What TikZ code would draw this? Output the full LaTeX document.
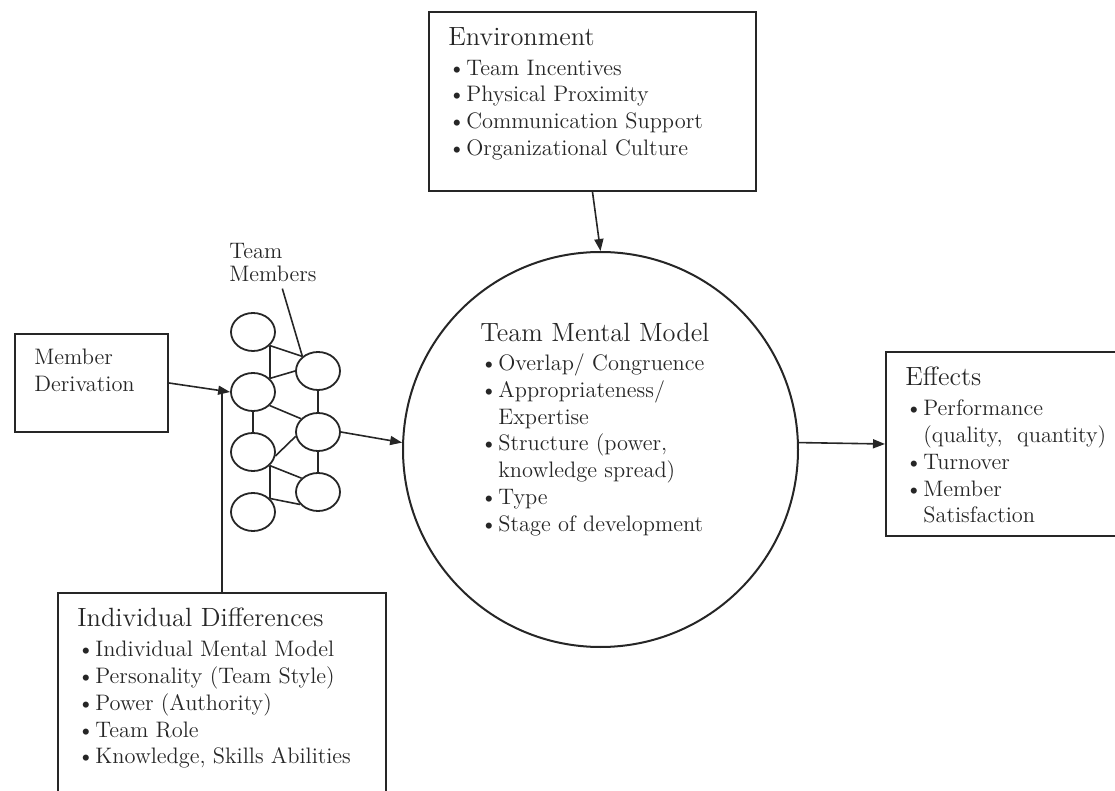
\documentclass[tikz,border=0pt]{standalone}
\usepackage{tikz}
\usetikzlibrary{arrows.meta,positioning,shapes.geometric}
\newcommand{\hdfont}{\fontsize{13.2}{15}\selectfont}
\newcommand{\bitem}{\makebox[9pt][l]{\textbullet}}
\newcommand{\bcont}{\hspace*{9pt}}
\tikzset{
  frame/.style={
    draw=black!85,
    line width=1pt,
    anchor=north west,
    inner sep=0pt
  },
  bodytext/.style={
    align=left,
    anchor=north west,
    inner xsep=10pt,
    inner ysep=8pt,
    text=black!85,
    font={\fontsize{11.2}{13.4}\selectfont}
  },
  member/.style={
    ellipse,
    draw=black!85,
    line width=0.9pt,
    minimum width=22pt,
    minimum height=19pt,
    inner sep=0pt
  },
  link/.style={
    draw=black!85,
    line width=0.8pt
  },
  flowarrow/.style={
    -{Triangle[length=6pt,width=4.5pt]},
    draw=black!85,
    line width=0.8pt
  }
}

\begin{document}
\begin{tikzpicture}[x=0.5pt,y=-0.5pt]
  \useasboundingbox (0,0) rectangle (1115,791);

  % boxes
  \node[frame, minimum width=163.5pt, minimum height=89.5pt] (env) at (428,11) {};
  \node[bodytext] (envtext) at (env.north west) {{\hdfont Environment}\\[1.5pt]
    \bitem Team Incentives\\
    \bitem Physical Proximity\\
    \bitem Communication Support\\
    \bitem Organizational Culture};

  \node[frame, minimum width=76.5pt, minimum height=49pt] (md) at (14,333) {};
  \node[bodytext] (mdtext) at (md.north west) {Member\\Derivation};

  \node[frame, minimum width=164pt, minimum height=110pt] (indiv) at (57,592) {};
  \node[bodytext] (indivtext) at (indiv.north west) {{\hdfont Individual Differences}\\[1.5pt]
    \bitem Individual Mental Model\\
    \bitem Personality (Team Style)\\
    \bitem Power (Authority)\\
    \bitem Team Role\\
    \bitem Knowledge, Skills Abilities};

  \node[frame, minimum width=120pt, minimum height=92pt] (fx) at (885,351) {};
  \node[bodytext] (fxtext) at (fx.north west) {{\hdfont Effects}\\[1.5pt]
    \bitem Performance\\
    \bcont (quality,\ \ quantity)\\
    \bitem Turnover\\
    \bitem Member\\
    \bcont Satisfaction};

  % mental model
  \node[circle, draw=black!85, line width=1pt, minimum size=197.5pt, inner sep=0pt] (tmm) at (600.5,449.5) {};
  \node[bodytext] (tmmtext) at (460,307) {{\hdfont Team Mental Model}\\[1pt]
    \bitem Overlap/ Congruence\\
    \bitem Appropriateness/\\
    \bcont Expertise\\
    \bitem Structure (power,\\
    \bcont knowledge spread)\\
    \bitem Type\\
    \bitem Stage of development};

  % team members
  \node[member] (a1) at (253,332) {};
  \node[member] (a2) at (253,392) {};
  \node[member] (a3) at (253,452) {};
  \node[member] (a4) at (253,512) {};
  \node[member] (b1) at (318,371) {};
  \node[member] (b2) at (318,432) {};
  \node[member] (b3) at (318,492) {};
  \node[align=left, inner sep=3pt, text=black!85, font={\fontsize{11.2}{11.5}\selectfont}] (tmlabel) at (273,263) {Team\\Members};

  \draw[link] (a1.-39) -- (a2.39);
  \draw[link] (a2.south) -- (a3.north);
  \draw[link] (a3.-39) -- (a4.39);
  \draw[link] (b1.south) -- (b2.north);
  \draw[link] (b2.south) -- (b3.north);
  \draw[link] (a1.-39) -- (b1.137);
  \draw[link] (a2.39) -- (b1.west);
  \draw[link] (a2.-39) -- (b2.142);
  \draw[link] (b2.191) -- (a3.-10);
  \draw[link] (a3.-39) -- (b3.140);
  \draw[link] (a4.39) -- (b3.215);
  \draw[link] (tmlabel.290) -- (b1.137);

  % connectors
  \coordinate (join) at (indiv.north |- a2.west);
  \draw[flowarrow] (md.east) -- (a2.west);
  \draw[link] (indiv.north) -- (join);
  \draw[flowarrow] (b2.east) -- (tmm.178);
  \draw[flowarrow] (env.south) -- (tmm.north);
  \draw[flowarrow] (tmm.2) -- (fx.west);
\end{tikzpicture}
\end{document}
